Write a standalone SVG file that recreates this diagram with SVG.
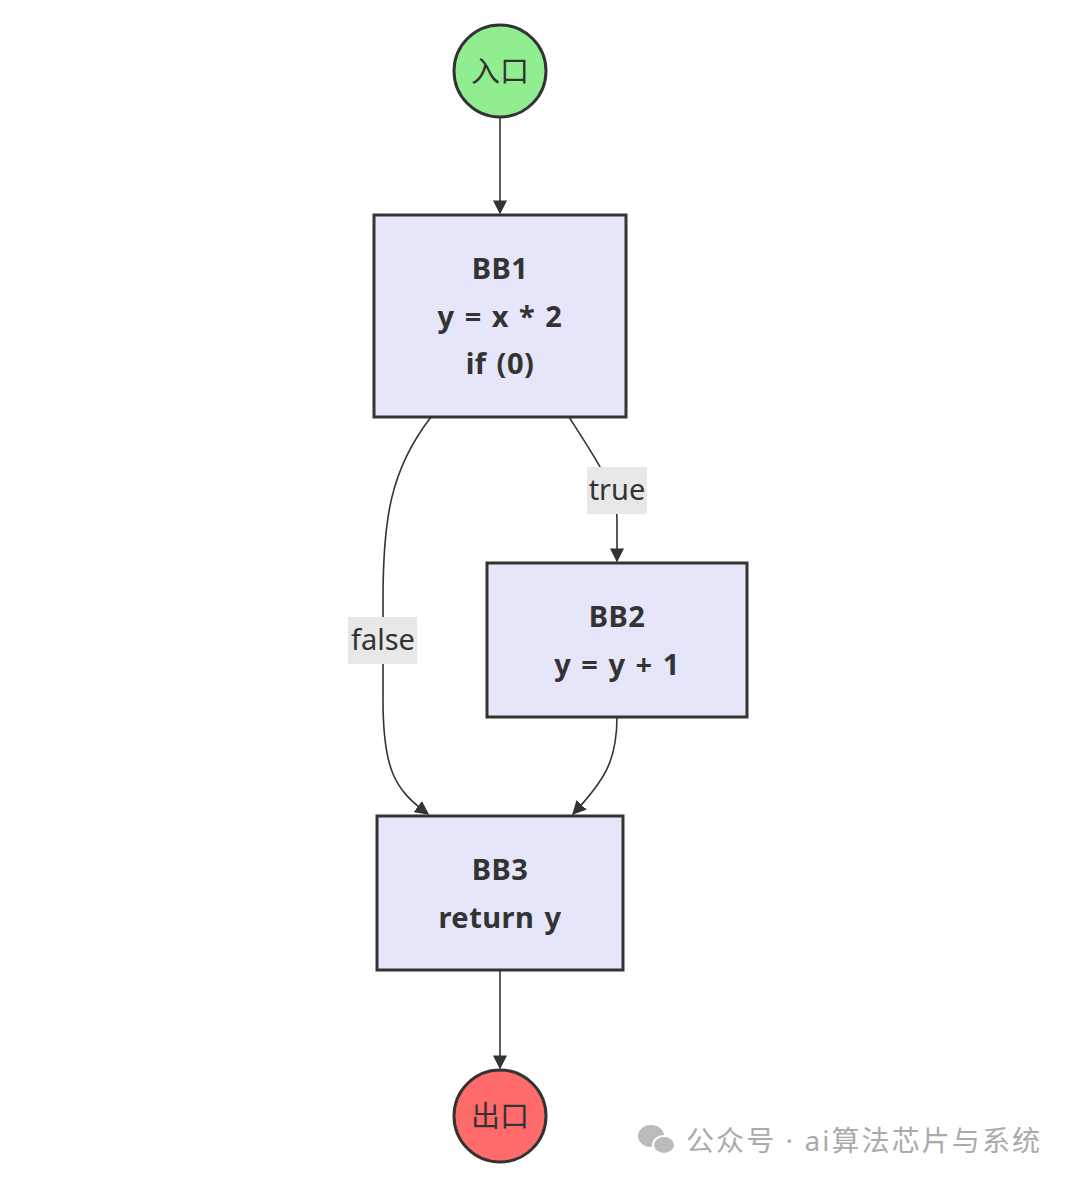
<svg xmlns="http://www.w3.org/2000/svg" width="1074" height="1184" viewBox="0 0 1074 1184">
<style>
.node{fill:#E6E6FA;stroke:#333;stroke-width:3}
.t{font-family:"Noto Sans","Noto Sans CJK SC",sans-serif;font-size:29px;fill:#333;text-anchor:middle}
.b{font-weight:bold;word-spacing:2px;letter-spacing:0.5px}
.e{fill:none;stroke:#333;stroke-width:1.6}
.lb{fill:#E8E8E8}
</style>
<defs><marker id="ah" viewBox="0 0 10 10" refX="9" refY="5" markerWidth="14" markerHeight="14" markerUnits="userSpaceOnUse" orient="auto"><path d="M0,0L10,5L0,10z" fill="#333"/></marker></defs>
<rect width="1074" height="1184" fill="#fff"/>
<g id="edges">
<path class="e" d="M500,117L500,213" marker-end="url(#ah)"/>
<path class="e" d="M569,417C600,465 617,490 617,520L617,561" marker-end="url(#ah)"/>
<path class="e" d="M431,417C390,470 383,520 383,600L383,700C383,770 395,790 428,814" marker-end="url(#ah)"/>
<path class="e" d="M617,717C617,760 605,780 573,814" marker-end="url(#ah)"/>
<path class="e" d="M500,970L500,1068" marker-end="url(#ah)"/>
<rect class="lb" x="587" y="467" width="60" height="47"/>
<text class="t" x="617" y="500">true</text>
<rect class="lb" x="348" y="617" width="69" height="47"/>
<text class="t" x="383" y="650">false</text>
</g>
<g id="entry"><circle cx="500" cy="71" r="46" fill="#90EE90" stroke="#333" stroke-width="3"/><text class="t" x="500" y="82">入口</text></g>
<g id="bb1"><rect class="node" x="374" y="215" width="252" height="202"/>
<text class="t b" x="500" y="279">BB1</text><text class="t b" x="500" y="327">y = x * 2</text><text class="t b" x="500" y="374">if (0)</text></g>
<g id="bb2"><rect class="node" x="487" y="563" width="260" height="154"/>
<text class="t b" x="617" y="627">BB2</text><text class="t b" x="617" y="675">y = y + 1</text></g>
<g id="bb3"><rect class="node" x="377" y="816" width="246" height="154"/>
<text class="t b" x="500" y="880">BB3</text><text class="t b" x="500" y="928">return y</text></g>
<g id="exit"><circle cx="500" cy="1116" r="46" fill="#FF6B6B" stroke="#333" stroke-width="3"/><text class="t" x="500" y="1127">出口</text></g>
<g id="wm"><ellipse cx="651" cy="1136" rx="13" ry="11" fill="#bbb"/><ellipse cx="664" cy="1145" rx="11" ry="9" fill="#bbb" stroke="#fff" stroke-width="2"/>
<text x="686" y="1151" font-family="'Noto Sans','Noto Sans CJK SC',sans-serif" font-size="28" fill="#aaa" textLength="354">公众号 · ai算法芯片与系统</text></g>
</svg>
